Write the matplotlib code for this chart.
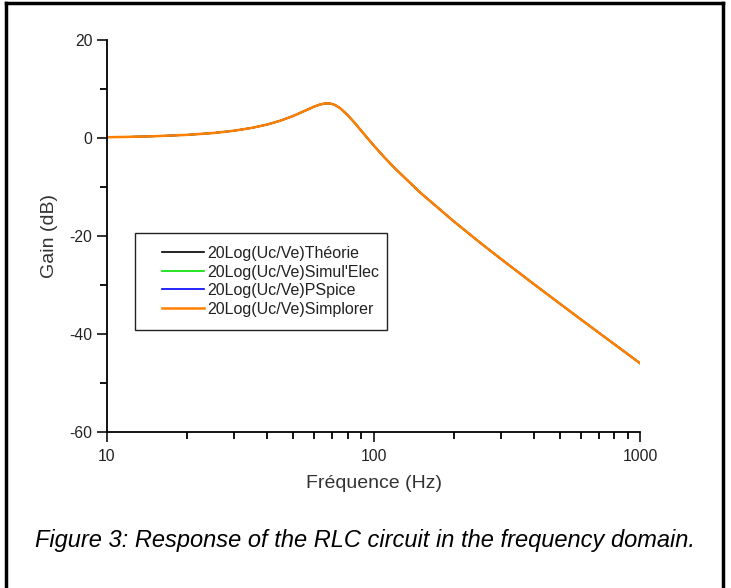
import matplotlib
matplotlib.use('Agg')
from matplotlib import pyplot as plt
from matplotlib.lines import Line2D
from matplotlib.patches import Rectangle
from matplotlib.ticker import FixedLocator, NullFormatter

plt.rcParams['font.family'] = ['Liberation Sans', 'DejaVu Sans']
plt.rcParams['axes.unicode_minus'] = False

# frequencies (Hz) and gain (dB)
freq = [10, 12, 15, 20, 25, 30, 35, 40, 45, 50, 55, 60, 63, 66, 68, 70, 72, 75,
        80, 85, 90, 100, 110, 120, 150, 200, 250, 300, 400, 500, 600, 700, 800, 1000]
gain_theorie = [0.16, 0.23, 0.36, 0.64, 1.01, 1.49, 2.07, 2.76, 3.58, 4.51, 5.50, 6.42,
                6.84, 7.06, 7.06, 6.94, 6.68, 6.08, 4.68, 3.08, 1.47, -1.47, -3.98, -6.13,
                -11.17, -17.0, -21.27, -24.64, -29.83, -33.8, -37.02, -39.72, -42.06, -45.96]
gain_simulelec = list(gain_theorie)
gain_pspice = list(gain_theorie)
gain_simplorer = list(gain_theorie)

series = ['20Log(Uc/Ve)Théorie', "20Log(Uc/Ve)Simul'Elec",
          '20Log(Uc/Ve)PSpice', '20Log(Uc/Ve)Simplorer']
colors = ['#000000', '#00e000', '#0000ff', '#ff8000']

W, H = 731, 588
fig = plt.figure(figsize=(W / 100, H / 100), dpi=100)
ax = fig.add_axes([107 / W, 1 - 432 / H, 533 / W, 392 / H])

for g, lab, c, lw in zip([gain_theorie, gain_simulelec, gain_pspice, gain_simplorer],
                         series, colors, [1.2, 1.2, 1.2, 1.8]):
    ax.plot(freq, g, color=c, lw=lw, label=lab)

ax.set_xscale('log')
ax.set_xlim(10, 1000)
ax.set_ylim(-60, 20)
ax.set_yticks([-60, -40, -20, 0, 20])
ax.yaxis.set_minor_locator(FixedLocator([-50, -30, -10, 10]))
ax.xaxis.set_minor_formatter(NullFormatter())
ax.set_xticks([10, 100, 1000])
ax.set_xticklabels(['10', '100', '1000'])

for s in ['top', 'right']:
    ax.spines[s].set_visible(False)
for s in ['left', 'bottom']:
    ax.spines[s].set_linewidth(1.3)

ax.tick_params(which='major', direction='out', length=7, width=1.3,
               labelsize=11.3, colors='#222222')
ax.tick_params(which='minor', direction='out', length=5, width=1.3)
ax.tick_params(axis='x', pad=5)

ax.set_xlabel('Fréquence (Hz)', fontsize=14, color='#333333', labelpad=8)
ax.set_ylabel('Gain (dB)', fontsize=14, color='#333333', labelpad=8)

leg = ax.legend(loc='upper left', bbox_to_anchor=((162 - 107) / 533, (432 - 246) / 392),
                borderaxespad=0, borderpad=0, fontsize=11.5, frameon=False,
                handlelength=2.6, handletextpad=0.25, labelspacing=0.22)
for t in leg.get_texts():
    t.set_color('#222222')

# legend box
fig.add_artist(Rectangle((135 / W, 1 - 330 / H), 252 / W, 97 / H,
                         transform=fig.transFigure, fill=False,
                         edgecolor='#222222', lw=1.0))

# frame around the whole figure (no bottom edge)
fig.add_artist(Line2D([6 / W, 723 / W], [1 - 3 / H, 1 - 3 / H],
                      transform=fig.transFigure, color='black', lw=2.5))
fig.add_artist(Line2D([6 / W, 6 / W], [0, 1 - 3 / H],
                      transform=fig.transFigure, color='black', lw=2.5))
fig.add_artist(Line2D([723 / W, 723 / W], [0, 1 - 3 / H],
                      transform=fig.transFigure, color='black', lw=2.5))

fig.text(365 / W, 1 - 540 / H,
         'Figure 3: Response of the RLC circuit in the frequency domain.',
         ha='center', va='center', fontsize=17, style='italic', color='black')

fig.savefig('out.png', dpi=100)
